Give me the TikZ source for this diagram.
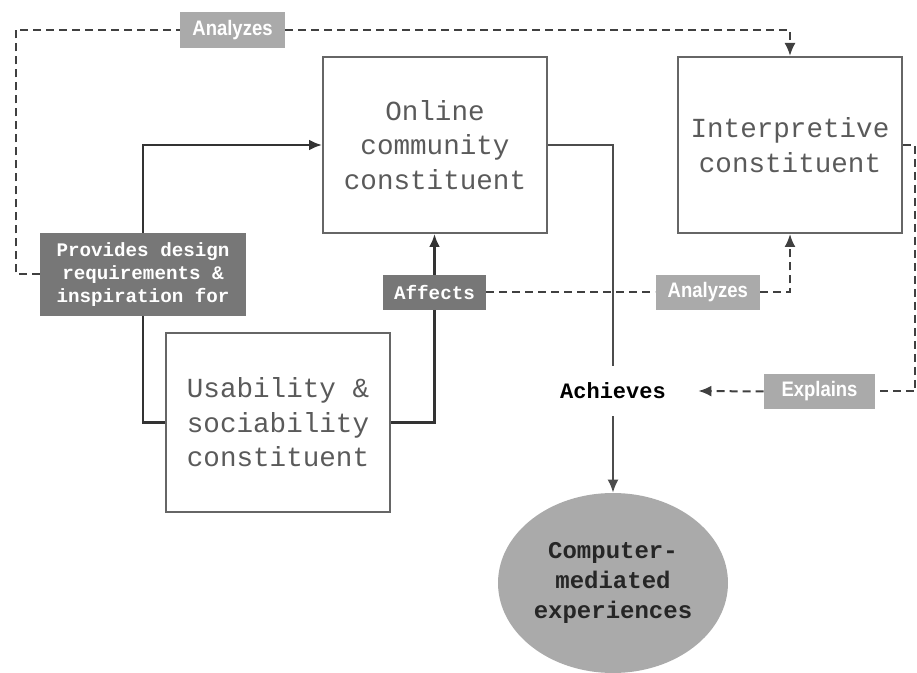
\documentclass[tikz,border=0pt]{standalone}
\usepackage{fontspec}
\setmonofont{Liberation Mono}
\newfontfamily\tagfont[FakeStretch=0.88]{Liberation Sans}
\usetikzlibrary{positioning,shapes,arrows.meta}
\definecolor{tagdark}{HTML}{777777}
\definecolor{taglight}{HTML}{AAAAAA}
\definecolor{boxtext}{HTML}{5A5A5A}
\tikzstyle{constituent}=[
	rectangle,
	draw=black!60,
	line width=1pt,
	text centered,
	align=center,
	text=boxtext,
	font=\ttfamily\fontsize{13.8}{17.2}\selectfont,
	minimum width=112pt,
	minimum height=88pt
	]
\tikzstyle{darktag}=[
	rectangle,
	fill=tagdark,
	text=white,
	align=center,
	inner sep=0pt,
	font=\ttfamily\bfseries\fontsize{9.6}{11.5}\selectfont
	]
\tikzstyle{lighttag}=[
	rectangle,
	fill=taglight,
	text=white,
	inner sep=0pt,
	minimum height=17.5pt,
	font=\tagfont\bfseries\fontsize{10.5}{12}\selectfont
	]
\tikzset{designline/.style={line width=1.4pt, draw=black!80}}
\tikzset{dashline/.style={dash pattern=on 4pt off 2.5pt, line width=1pt, draw=black!75}}
\tikzset{plainline/.style={line width=0.9pt, draw=black!70}}

\begin{document}
\begin{tikzpicture}[x=0.5pt, y=-0.5pt, >={Latex[length=6.5pt,width=5.5pt]}]
	\useasboundingbox (0,0) rectangle (917,673);

		\node (Online) [constituent] at (435,145) {Online\\community\\constituent};

		\node (Interpretive) [constituent, right=64.5pt of Online] {Interpretive\\constituent};

		\node (Usability) [constituent, minimum height=89.5pt] at (278,422.5) {Usability \&\\sociability\\constituent};

		\node (Provides) [darktag, minimum width=103pt, minimum height=41.5pt] at (143,274.5) {Provides design\\requirements \&\\inspiration for};

		\node (Affects) [darktag, minimum width=51.5pt, minimum height=17.5pt] at (434.5,292.5) {Affects};

		\node (AnalyzesTop) [lighttag, minimum width=52.5pt, minimum height=18pt] at (232.5,30) {Analyzes};

		\node (AnalyzesMid) [lighttag, minimum width=52pt, right=84.5pt of Affects] {Analyzes};

		\node (Explains) [lighttag, minimum width=55.5pt] at (819.5,391.5) {Explains};

		\node (Achieves) [minimum width=85pt, minimum height=25pt, inner sep=0pt, text=black,
			font=\ttfamily\bfseries\fontsize{11}{13}\selectfont] at (613,391) {Achieves};

		\node (Experiences) [ellipse, fill=taglight, inner sep=0pt, minimum width=115pt, minimum height=90pt,
			align=center, text=black!85, font=\ttfamily\bfseries\fontsize{12}{15}\selectfont] at (613,583)
			{Computer-\\mediated\\experiences};

		\draw[dashline] (Provides.west) -- ++(-24,0) |- (AnalyzesTop.west);
		\draw[dashline, ->] (AnalyzesTop.east) -| (Interpretive.north);

		\draw[designline] (Usability.west) -| (Provides.south);
		\draw[designline, ->] (Provides.north) |- (Online.west);

		\draw[designline] (Usability.east) -| (Affects.south);
		\draw[designline, ->] (Affects.north) -- (Affects.north |- Online.south);

		\draw[dashline] (Affects.east) -- (AnalyzesMid.west);
		\draw[dashline, ->] (AnalyzesMid.east) -| (Interpretive.south);

		\draw[plainline] (Online.east) -| (Achieves.north);
		\draw[plainline, ->] (Achieves.south) -- (Experiences.north);

		\draw[dashline] (Interpretive.east) -- ++(12,0) |- (Explains.east);
		\draw[dashline, ->] (Explains.west) -- (Achieves.east);

	\end{tikzpicture}
\end{document}
